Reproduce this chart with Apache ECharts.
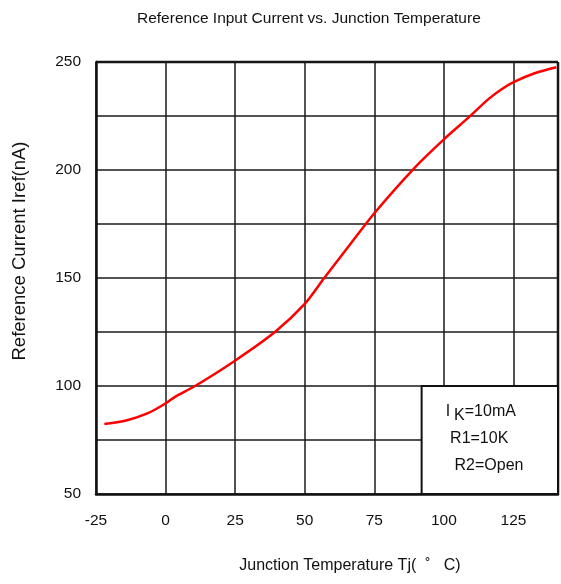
<!DOCTYPE html>
<html>
<head>
<meta charset="utf-8">
<script src="https://cdn.jsdelivr.net/npm/echarts@6/dist/echarts.min.js"></script>
<style>
  html, body { margin: 0; padding: 0; background: #fff; }
  #main { width: 561px; height: 584px; }
</style>
</head>
<body>
<div id="main"></div>
<script>
// Tj (deg C) and Iref (nA)
var tempC = [-22, -13.5, -6.3, -0.3, 3.4, 10.6, 24.8, 39.4, 50, 57, 66, 75, 89.3, 100, 109.2, 116, 121, 125.4, 132.6, 140.4];
var irefNA = [82.4, 84.3, 87.4, 91.7, 95.0, 100, 111.6, 125.1, 138, 150, 165, 180, 200.8, 214.2, 224.7, 232.8, 237.6, 240.9, 244.8, 247.6];

var conditions = ['{n|I}{s|K}{n|=10mA}', '{n| R1=10K}', '{n|  R2=Open}'];
var boxFrom = [92, 100];
var boxTo = [141, 50];

var fontFam = '"Liberation Sans", Arial, sans-serif';
var points = tempC.map(function (t, i) { return [t, irefNA[i]]; });

var chart = echarts.init(document.getElementById('main'));

chart.setOption({
    animation: false,
    backgroundColor: '#fff',
    title: {
        text: 'Reference Input Current vs. Junction Temperature',
        left: 132,
        top: 6,
        textStyle: { fontFamily: fontFam, fontSize: 15.5, fontWeight: 'normal', color: '#111' }
    },
    grid: { left: 96, right: 3, top: 62, bottom: 90, containLabel: false },
    xAxis: {
        type: 'value',
        min: -25,
        max: 141,
        interval: 25,
        axisLine: { onZero: false, lineStyle: { color: '#111', width: 2.5 } },
        axisTick: { show: false },
        axisLabel: { showMaxLabel: false, margin: 19, color: '#111', fontFamily: fontFam, fontSize: 15.5 },
        splitLine: { lineStyle: { color: '#1a1a1a', width: 1.5 } }
    },
    yAxis: {
        type: 'value',
        min: 50,
        max: 250,
        interval: 25,
        axisLine: { show: true, onZero: false, lineStyle: { color: '#111', width: 2.5 } },
        axisTick: { show: false },
        axisLabel: {
            margin: 15, color: '#111', fontFamily: fontFam, fontSize: 15.5,
            formatter: function (v) { return v % 50 === 0 ? String(v) : ''; }
        },
        splitLine: { lineStyle: { color: '#1a1a1a', width: 1.5 } }
    },
    graphic: [
        {
            type: 'text', x: 20, y: 251, rotation: Math.PI / 2,
            style: {
                text: 'Reference Current Iref(nA)', align: 'center', verticalAlign: 'middle',
                fill: '#111', font: '18.5px ' + fontFam
            }
        },
        {
            type: 'text', x: 350, y: 566,
            style: {
                text: 'Junction Temperature Tj(  ˚   C)', align: 'center', verticalAlign: 'middle',
                fill: '#111', font: '16px ' + fontFam
            }
        },
        {
            // right and top borders of the plot
            type: 'line', shape: { x1: 558, y1: 62, x2: 558, y2: 494 },
            style: { stroke: '#111', lineWidth: 2.5 }
        },
        {
            type: 'line', shape: { x1: 96, y1: 62, x2: 558, y2: 62 },
            style: { stroke: '#111', lineWidth: 2.5 }
        }
    ],
    series: [{
        type: 'line',
        data: points,
        smooth: 0.3,
        showSymbol: false,
        lineStyle: { color: '#ff0000', width: 2.5 },
        markArea: {
            silent: true,
            itemStyle: { color: '#fff', borderColor: '#111', borderWidth: 2 },
            label: {
                show: true,
                position: 'insideTopLeft',
                distance: 0,
                padding: [13, 0, 0, 25],
                formatter: conditions.join('\n'),
                rich: {
                    n: { fontFamily: fontFam, fontSize: 16, color: '#111', lineHeight: 27 },
                    s: { fontFamily: fontFam, fontSize: 16, color: '#111', lineHeight: 27, padding: [9, 0, 0, 4] }
                }
            },
            data: [[{ coord: boxFrom }, { coord: boxTo }]]
        }
    }]
});
</script>
</body>
</html>
